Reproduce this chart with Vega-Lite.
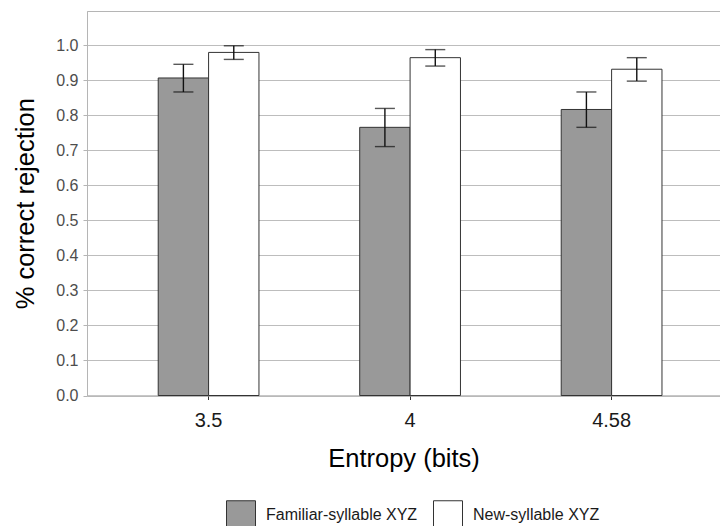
{
  "$schema": "https://vega.github.io/schema/vega-lite/v6.json",
  "autosize": {"type": "none"},
  "padding": {"left": 87, "top": 11, "right": 0, "bottom": 130.5},
  "width": 633,
  "height": 384.5,
  "background": "white",
  "config": {
    "font": "Liberation Sans",
    "view": {"stroke": "#b5b5b5", "strokeWidth": 1},
    "axis": {"titleFontWeight": "normal", "titleFont": "Liberation Sans", "labelFont": "Liberation Sans"},
    "axisY": {
      "titleFontSize": 25.5,
      "titleColor": "#000000",
      "titlePadding": 17,
      "labelOverlap": false,
      "labelFontSize": 16,
      "labelColor": "#4d4d4d",
      "labelPadding": 5,
      "tickSize": 4,
      "tickColor": "#b5b5b5",
      "domainColor": "#b5b5b5",
      "grid": true,
      "gridColor": "#bdbdbd",
      "gridWidth": 1
    }
  },
  "data": {
    "values": [
      {"entropy": "3.5", "condition": "Familiar-syllable XYZ", "mean": 0.907, "lo": 0.867, "hi": 0.946},
      {"entropy": "3.5", "condition": "New-syllable XYZ", "mean": 0.980, "lo": 0.960, "hi": 0.999},
      {"entropy": "4", "condition": "Familiar-syllable XYZ", "mean": 0.766, "lo": 0.711, "hi": 0.820},
      {"entropy": "4", "condition": "New-syllable XYZ", "mean": 0.965, "lo": 0.941, "hi": 0.988},
      {"entropy": "4.58", "condition": "Familiar-syllable XYZ", "mean": 0.817, "lo": 0.766, "hi": 0.867},
      {"entropy": "4.58", "condition": "New-syllable XYZ", "mean": 0.932, "lo": 0.898, "hi": 0.965}
    ]
  },
  "encoding": {
    "x": {
      "field": "entropy",
      "type": "nominal",
      "sort": ["3.5", "4", "4.58"],
      "scale": {"paddingInner": 0.5, "paddingOuter": 0.3207, "align": 0.551},
      "axis": {
        "title": "Entropy (bits)",
        "titleFontSize": 25.5,
        "titleColor": "#000000",
        "titlePadding": 16,
        "labelAngle": 0,
        "labelFontSize": 20,
        "labelColor": "#1a1a1a",
        "labelPadding": 11,
        "tickSize": 4,
        "tickColor": "#333333",
        "domainColor": "#b5b5b5",
        "grid": false
      }
    },
    "xOffset": {"field": "condition", "type": "nominal", "sort": ["Familiar-syllable XYZ", "New-syllable XYZ"]}
  },
  "layer": [
    {
      "mark": {"type": "bar", "stroke": "#333333", "strokeWidth": 1},
      "encoding": {
        "y": {
          "field": "mean",
          "type": "quantitative",
          "title": "% correct rejection",
          "scale": {"domain": [0, 1.0983], "nice": false, "zero": true},
          "axis": {"values": [0, 0.1, 0.2, 0.3, 0.4, 0.5, 0.6, 0.7, 0.8, 0.9, 1.0], "format": ".1f", "title": "% correct rejection"}
        },
        "fill": {
          "field": "condition",
          "type": "nominal",
          "scale": {"domain": ["Familiar-syllable XYZ", "New-syllable XYZ"], "range": ["#999999", "#ffffff"]},
          "legend": {
            "title": null,
            "orient": "none",
            "direction": "horizontal",
            "legendX": 139,
            "legendY": 489,
            "symbolType": "square",
            "symbolSize": 841,
            "symbolStrokeColor": "#333333",
            "symbolStrokeWidth": 1,
            "labelFontSize": 16,
            "labelColor": "#1a1a1a",
            "labelOffset": 10,
            "columnPadding": 13
          }
        }
      }
    },
    {
      "mark": {"type": "rule", "color": "#111111", "strokeWidth": 1.4},
      "encoding": {
        "y": {
          "field": "lo",
          "type": "quantitative",
          "title": "% correct rejection",
          "axis": {"values": [0, 0.1, 0.2, 0.3, 0.4, 0.5, 0.6, 0.7, 0.8, 0.9, 1.0], "format": ".1f", "title": "% correct rejection"}
        },
        "y2": {"field": "hi"}
      }
    },
    {
      "mark": {"type": "tick", "color": "#111111", "thickness": 1.4, "size": 20, "orient": "horizontal"},
      "encoding": {
        "y": {
          "field": "lo",
          "type": "quantitative",
          "title": "% correct rejection",
          "axis": {"values": [0, 0.1, 0.2, 0.3, 0.4, 0.5, 0.6, 0.7, 0.8, 0.9, 1.0], "format": ".1f", "title": "% correct rejection"}
        }
      }
    },
    {
      "mark": {"type": "tick", "color": "#111111", "thickness": 1.4, "size": 20, "orient": "horizontal"},
      "encoding": {
        "y": {
          "field": "hi",
          "type": "quantitative",
          "title": "% correct rejection",
          "axis": {"values": [0, 0.1, 0.2, 0.3, 0.4, 0.5, 0.6, 0.7, 0.8, 0.9, 1.0], "format": ".1f", "title": "% correct rejection"}
        }
      }
    }
  ]
}
